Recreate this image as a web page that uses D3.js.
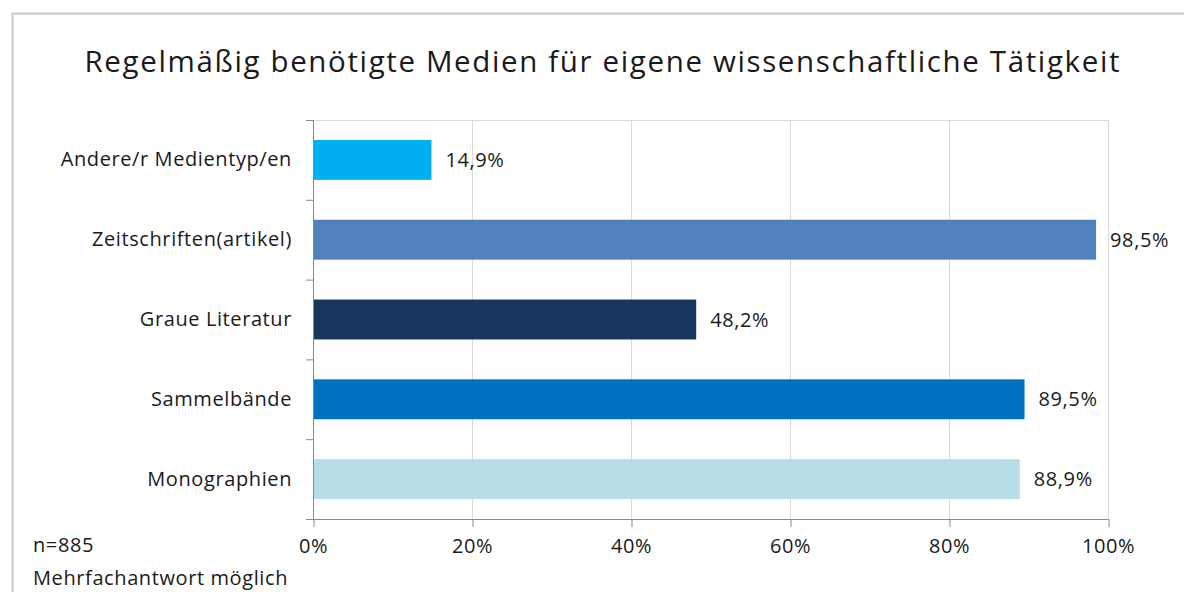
<!DOCTYPE html>
<html>
<head>
    <meta charset="utf-8">
    <title>Regelmäßig benötigte Medien</title>
    <style>
        body { margin: 0; background: #fff; }
        text { font-family: "Open Sans", sans-serif; fill: #1a1a1a; }
        .lbl { font-size: 20px; letter-spacing: 0.6px; }
    </style>
</head>
<body>
    <div id="svgContainer"></div>
    <script src="https://d3js.org/d3.v7.min.js"></script>
    <script>
        // data, top to bottom as shown
        var categories = ["Andere/r Medientyp/en", "Zeitschriften(artikel)", "Graue Literatur", "Sammelbände", "Monographien"];
        var values = [14.9, 98.5, 48.2, 89.5, 88.9];
        var barColors = ["#00B0F0", "#4F81BD", "#17375E", "#0070C0", "#B7DEE8"];
        var xTicks = [0, 20, 40, 60, 80, 100];

        var W = 1184, H = 592;
        var margin = { top: 120, right: 76, bottom: 73, left: 313 },
            width = W - margin.left - margin.right,
            height = H - margin.top - margin.bottom;

        var svg = d3.select("#svgContainer")
            .append("svg")
            .attr("width", W)
            .attr("height", H);

        // outer frame (only top and left visible in the crop)
        svg.append("path")
            .attr("d", "M12.5,600 L12.5,13.5 L1200,13.5")
            .attr("fill", "none")
            .attr("stroke", "#c8c8c8")
            .attr("stroke-width", 2);

        svg.append("text")
            .attr("x", 602)
            .attr("y", 72)
            .attr("text-anchor", "middle")
            .style("font-size", "29.5px")
            .attr("textLength", 1035)
            .text("Regelmäßig benötigte Medien für eigene wissenschaftliche Tätigkeit");

        var chart = svg.append("g")
            .attr("transform", "translate(" + margin.left + "," + margin.top + ")");

        var xScale = d3.scaleLinear().domain([0, 100]).range([0, width]);
        var yScale = d3.scaleBand().domain(categories).range([0, height]).paddingInner(0.5).paddingOuter(0.25);
        var yBand = d3.scaleBand().domain(categories).range([0, height]);

        // gridlines
        chart.selectAll("line.grid")
            .data(xTicks.slice(1))
            .enter()
            .append("line")
            .attr("class", "grid")
            .attr("x1", d => xScale(d) + 0.5)
            .attr("x2", d => xScale(d) + 0.5)
            .attr("y1", 0)
            .attr("y2", height)
            .attr("stroke", "#d9d9d9")
            .attr("stroke-width", 1);
        chart.append("line")
            .attr("x1", 0).attr("x2", width)
            .attr("y1", 0.5).attr("y2", 0.5)
            .attr("stroke", "#d9d9d9");

        // bars
        chart.selectAll("rect")
            .data(categories)
            .enter()
            .append("rect")
            .attr("x", 0)
            .attr("y", d => yScale(d))
            .attr("width", (d, i) => xScale(values[i]))
            .attr("height", yScale.bandwidth())
            .attr("fill", (d, i) => barColors[i]);

        // value labels
        chart.selectAll("text.val")
            .data(categories)
            .enter()
            .append("text")
            .attr("class", "val lbl")
            .attr("x", (d, i) => xScale(values[i]) + 14)
            .attr("y", d => yScale(d) + yScale.bandwidth() / 2)
            .attr("dy", "0.35em")
            .text((d, i) => d3.format(".1f")(values[i]).replace(".", ",") + "%");

        // y axis
        var yAxis = chart.append("g")
            .call(d3.axisLeft(yBand).tickSize(0).tickPadding(21));
        yAxis.select(".domain").attr("stroke", "#888").attr("d", "M0.5,0V" + height);
        yAxis.selectAll("text").attr("class", "lbl").attr("fill", "#1a1a1a");
        yAxis.selectAll("line.cat-tick")
            .data(d3.range(categories.length + 1))
            .enter()
            .append("line")
            .attr("class", "cat-tick")
            .attr("x1", -7).attr("x2", 0)
            .attr("y1", i => i * yBand.step() + 0.5)
            .attr("y2", i => i * yBand.step() + 0.5)
            .attr("stroke", "#888");

        // x axis
        var xAxis = chart.append("g")
            .attr("transform", "translate(0," + height + ")")
            .call(d3.axisBottom(xScale).tickValues(xTicks).tickSize(8).tickPadding(12)
                .tickFormat(d => d + "%"));
        xAxis.select(".domain").attr("stroke", "#888").attr("d", "M0,0.5H" + width);
        xAxis.selectAll("line").attr("stroke", "#888").attr("transform", "translate(0.5,0)");
        xAxis.selectAll("text").attr("class", "lbl").attr("fill", "#1a1a1a");

        // notes
        svg.append("text")
            .attr("class", "lbl")
            .attr("x", 33).attr("y", 552)
            .text("n=885");
        svg.append("text")
            .attr("class", "lbl")
            .attr("x", 33).attr("y", 585)
            .text("Mehrfachantwort möglich");
    </script>
</body>
</html>
